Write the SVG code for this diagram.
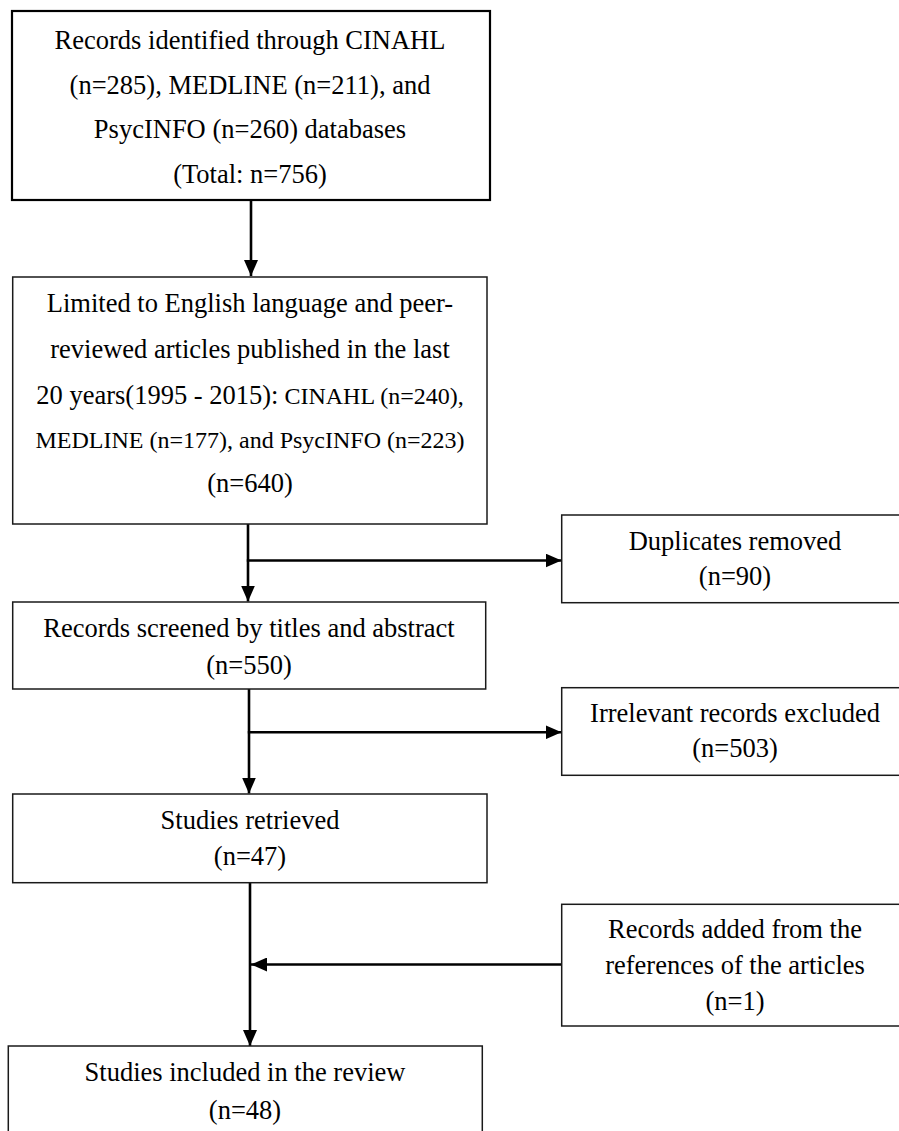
<svg xmlns="http://www.w3.org/2000/svg" width="899" height="1131" viewBox="0 0 899 1131">
  <style>
    .box { fill: #ffffff; stroke: #1a1a1a; stroke-width: 1.5; }
    .box1 { fill: #ffffff; stroke: #000000; stroke-width: 2.2; }
    .t { font-family: "Liberation Serif", "Times New Roman", serif; font-size: 26.5px; fill: #000000; text-anchor: middle; }
    .s { font-size: 24px; }
    .conn { stroke: #000000; stroke-width: 2.6; fill: none; }
  </style>
  <defs>
    <marker id="arrow" viewBox="0 0 16 14" refX="16" refY="7" markerWidth="16" markerHeight="14" markerUnits="userSpaceOnUse" orient="auto">
      <path d="M0,0 L16,7 L0,14 z" fill="#000000"/>
    </marker>
  </defs>
  <rect width="899" height="1131" fill="#ffffff"/>

  <g id="connectors">
    <line class="conn" x1="251" y1="200" x2="251" y2="276" marker-end="url(#arrow)"/>
    <line class="conn" x1="248" y1="524" x2="248" y2="601.5" marker-end="url(#arrow)"/>
    <line class="conn" x1="246.8" y1="560.5" x2="561.5" y2="560.5" marker-end="url(#arrow)"/>
    <line class="conn" x1="249" y1="689" x2="249" y2="793.5" marker-end="url(#arrow)"/>
    <line class="conn" x1="247.8" y1="732.3" x2="561.5" y2="732.3" marker-end="url(#arrow)"/>
    <line class="conn" x1="250" y1="883" x2="250" y2="1046" marker-end="url(#arrow)"/>
    <line class="conn" x1="561.7" y1="964.5" x2="251" y2="964.5" marker-end="url(#arrow)"/>
  </g>

  <g id="node-identified">
    <rect class="box1" x="12" y="11" width="478" height="189"/>
    <text class="t" x="250" y="49">Records identified through CINAHL</text>
    <text class="t" x="250" y="93.5">(n=285), MEDLINE (n=211), and</text>
    <text class="t" x="250" y="138">PsycINFO (n=260) databases</text>
    <text class="t" x="250" y="182.5">(Total: n=756)</text>
  </g>

  <g id="node-limited">
    <rect class="box" x="12.7" y="277" width="474.3" height="247"/>
    <text class="t" x="250" y="312">Limited to English language and peer-</text>
    <text class="t" x="250" y="358">reviewed articles published in the last</text>
    <text class="t" x="250" y="404">20 years(1995 - 2015):<tspan class="s"> CINAHL (n=240),</tspan></text>
    <text class="t s" x="250" y="448">MEDLINE (n=177), and PsycINFO (n=223)</text>
    <text class="t" x="250" y="492">(n=640)</text>
  </g>

  <g id="node-duplicates">
    <rect class="box" x="561.7" y="515" width="346" height="87.7"/>
    <text class="t" x="735" y="550">Duplicates removed</text>
    <text class="t" x="735" y="585">(n=90)</text>
  </g>

  <g id="node-screened">
    <rect class="box" x="12.7" y="602" width="473" height="87"/>
    <text class="t" x="249" y="636.7">Records screened by titles and abstract</text>
    <text class="t" x="249" y="674">(n=550)</text>
  </g>

  <g id="node-irrelevant">
    <rect class="box" x="561.7" y="687.7" width="346" height="87.6"/>
    <text class="t" x="735" y="721.7">Irrelevant records excluded</text>
    <text class="t" x="735" y="757.3">(n=503)</text>
  </g>

  <g id="node-retrieved">
    <rect class="box" x="12.7" y="794" width="474.3" height="88.7"/>
    <text class="t" x="250" y="829">Studies retrieved</text>
    <text class="t" x="250" y="865">(n=47)</text>
  </g>

  <g id="node-added">
    <rect class="box" x="561.7" y="904.3" width="346" height="121.7"/>
    <text class="t" x="735" y="938.3">Records added from the</text>
    <text class="t" x="735" y="974">references of the articles</text>
    <text class="t" x="735" y="1010">(n=1)</text>
  </g>

  <g id="node-included">
    <rect class="box" x="8.3" y="1046" width="474" height="100"/>
    <text class="t" x="245" y="1081">Studies included in the review</text>
    <text class="t" x="245" y="1119">(n=48)</text>
  </g>
</svg>
